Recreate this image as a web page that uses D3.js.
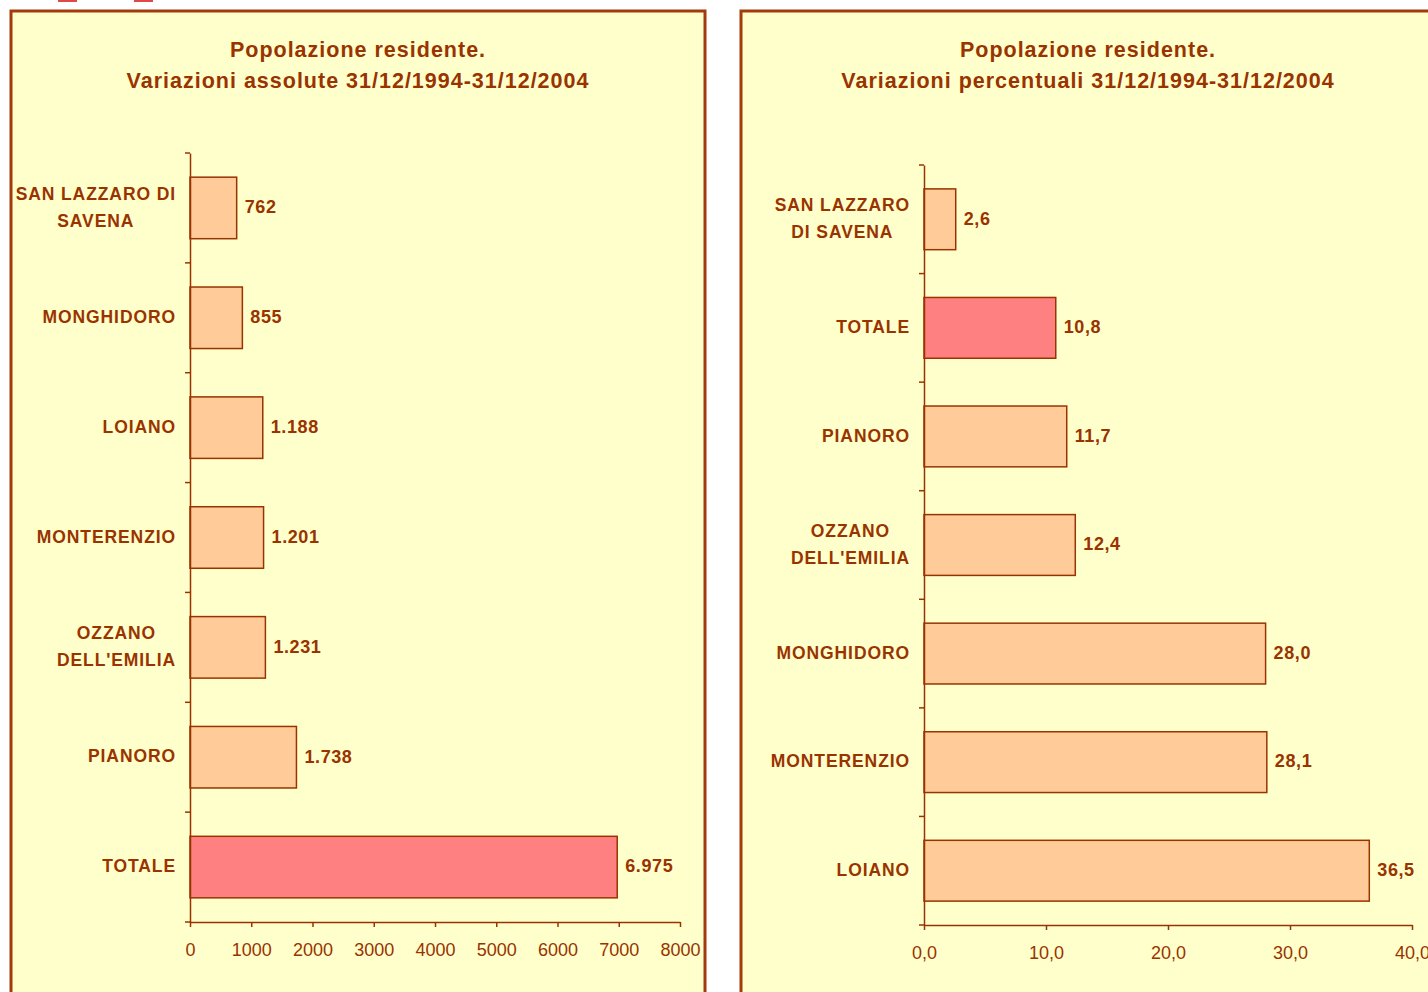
<!DOCTYPE html>
<html>
<head>
<meta charset="utf-8">
<script src="https://cdn.jsdelivr.net/npm/d3@7"></script>
<style>
  body { margin: 0; background: #ffffff; }
  svg text { font-family: "Liberation Sans", Arial, sans-serif; fill: #993300; }
</style>
</head>
<body>
<div class="chart"></div>
<script>
// Data (top to bottom)
var absCategories = ["SAN LAZZARO DI\nSAVENA", "MONGHIDORO", "LOIANO", "MONTERENZIO", "OZZANO\nDELL'EMILIA", "PIANORO", "TOTALE"];
var absValues = [762, 855, 1188, 1201, 1231, 1738, 6975];
var absTicks = [0, 1000, 2000, 3000, 4000, 5000, 6000, 7000, 8000];

var pctCategories = ["SAN LAZZARO\nDI SAVENA", "TOTALE", "PIANORO", "OZZANO\nDELL'EMILIA", "MONGHIDORO", "MONTERENZIO", "LOIANO"];
var pctValues = [2.6, 10.8, 11.7, 12.4, 28.0, 28.1, 36.5];
var pctTicks = [0, 10, 20, 30, 40];

var ink = "#993300";
var barFill = "#FFCC99";
var totalFill = "#FF8080";

var svg = d3.select(".chart")
  .append("svg")
  .attr("width", 1428)
  .attr("height", 992);

// little red marks cut at the top edge
svg.append("rect").attr("x", 58).attr("y", 0).attr("width", 19).attr("height", 2).attr("fill", "#E04848");
svg.append("rect").attr("x", 134).attr("y", 0).attr("width", 19).attr("height", 2).attr("fill", "#E04848");

function drawPanel(opt) {
  var g = svg.append("g");

  // panel frame
  g.append("rect")
    .attr("x", opt.box[0]).attr("y", opt.box[1])
    .attr("width", opt.box[2]).attr("height", opt.box[3])
    .attr("fill", "#FFFFCC")
    .attr("stroke", "#A23A0C")
    .attr("stroke-width", 3);

  // title
  var cx = opt.box[0] + opt.box[2] / 2;
  opt.title.forEach(function(line, i) {
    g.append("text")
      .attr("x", cx).attr("y", 57 + i * 31)
      .attr("text-anchor", "middle")
      .style("font-size", "21.5px")
      .style("font-weight", "bold")
      .style("letter-spacing", "1px")
      .text(line);
  });

  var x = d3.scaleLinear().domain(opt.xDomain).range(opt.xRange);
  var y = d3.scaleBand().domain(opt.categories).range(opt.yRange)
    .paddingInner(0.44).paddingOuter(0.22);

  // bars
  g.selectAll("rect.bar")
    .data(opt.values)
    .enter()
    .append("rect")
    .attr("class", "bar")
    .attr("x", x(0))
    .attr("y", (d, i) => y(opt.categories[i]))
    .attr("width", d => x(d) - x(0))
    .attr("height", y.bandwidth())
    .attr("fill", (d, i) => opt.categories[i] === "TOTALE" ? totalFill : barFill)
    .attr("stroke", ink)
    .attr("stroke-width", 1.5);

  // value labels
  g.selectAll("text.val")
    .data(opt.values)
    .enter()
    .append("text")
    .attr("class", "val")
    .attr("x", d => x(d) + 8)
    .attr("y", (d, i) => y(opt.categories[i]) + y.bandwidth() / 2 - 1)
    .attr("dy", "0.35em")
    .style("font-size", "18px")
    .style("font-weight", "bold")
    .style("letter-spacing", "0.6px")
    .text(opt.format);

  // category labels (multi-line ones centred on their widest line)
  var labelRight = x(0) - 14;
  opt.categories.forEach(function(cat) {
    var lines = cat.split("\n");
    var t = g.append("text")
      .style("font-size", "17.5px")
      .style("font-weight", "bold")
      .style("letter-spacing", "0.9px");
    var mid = y(cat) + y.bandwidth() / 2 - 1;
    var spans = lines.map(function(l, i) {
      return t.append("tspan")
        .attr("y", mid + (i - (lines.length - 1) / 2) * 27)
        .attr("dy", "0.35em")
        .text(l);
    });
    var w = d3.max(spans, s => s.node().getComputedTextLength());
    if (lines.length > 1) {
      t.attr("text-anchor", "middle");
      spans.forEach(s => s.attr("x", labelRight - w / 2));
    } else {
      t.attr("text-anchor", "end");
      spans.forEach(s => s.attr("x", labelRight));
    }
  });

  // x axis
  var xAxis = d3.axisBottom(x)
    .tickValues(opt.ticks)
    .tickSize(5)
    .tickSizeOuter(0)
    .tickPadding(16)
    .tickFormat(opt.tickFormat);
  var ax = g.append("g")
    .attr("transform", `translate(0, ${opt.yRange[1]})`)
    .call(xAxis);
  ax.select(".domain").attr("stroke", ink).attr("stroke-width", 1.5);
  ax.selectAll(".tick line").attr("stroke", ink).attr("stroke-width", 1.5);
  ax.selectAll(".tick text")
    .attr("fill", ink)
    .style("font-size", "18px")
    .style("font-family", "'Liberation Sans', Arial, sans-serif");

  // y axis: line plus ticks on band boundaries
  var yAxis = d3.axisLeft(y).tickSize(0).tickFormat("");
  var ay = g.append("g")
    .attr("transform", `translate(${x(0)}, 0)`)
    .call(yAxis);
  ay.select(".domain").attr("stroke", ink).attr("stroke-width", 1.5);
  var bounds = d3.range(opt.categories.length + 1).map(i => opt.yRange[0] + i * y.step());
  ay.selectAll("line.bound")
    .data(bounds)
    .enter()
    .append("line")
    .attr("class", "bound")
    .attr("x1", -5).attr("x2", 0)
    .attr("y1", d => d).attr("y2", d => d)
    .attr("stroke", ink)
    .attr("stroke-width", 1.5);
}

drawPanel({
  box: [11, 11, 694, 1000],
  title: ["Popolazione residente.", "Variazioni assolute 31/12/1994-31/12/2004"],
  categories: absCategories,
  values: absValues,
  ticks: absTicks,
  xDomain: [0, 8000],
  xRange: [190, 680],
  yRange: [153, 922],
  format: d => d3.format(",")(d).replace(/,/g, "."),
  tickFormat: d => String(d)
});

drawPanel({
  box: [741, 11, 694, 1000],
  title: ["Popolazione residente.", "Variazioni percentuali 31/12/1994-31/12/2004"],
  categories: pctCategories,
  values: pctValues,
  ticks: pctTicks,
  xDomain: [0, 40],
  xRange: [924, 1412],
  yRange: [165, 925],
  format: d => d3.format(".1f")(d).replace(".", ","),
  tickFormat: d => d3.format(".1f")(d).replace(".", ",")
});
</script>
</body>
</html>
